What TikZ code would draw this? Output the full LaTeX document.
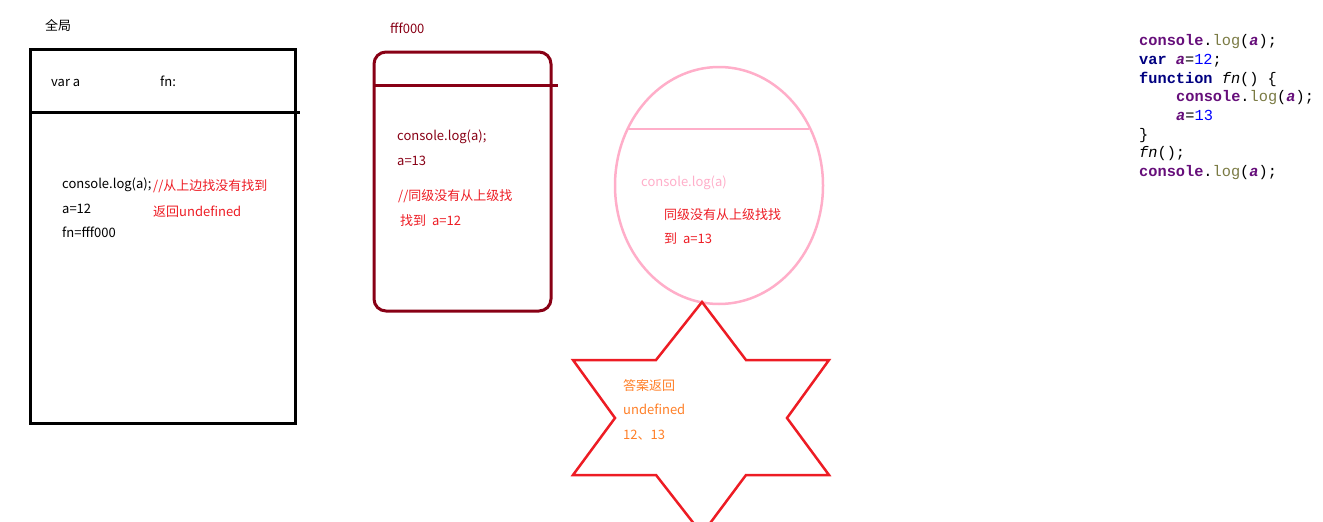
\documentclass[tikz,border=0pt]{standalone}
\usepackage{fontspec}
\setmainfont{Noto Sans CJK SC}
\newfontfamily\codefont{Liberation Mono}
\usepackage{tikz}
\usetikzlibrary{shapes.geometric}

\definecolor{darkred}{RGB}{136,0,21}
\definecolor{paintred}{RGB}{237,28,36}
\definecolor{paintpink}{RGB}{255,174,201}
\definecolor{paintorange}{RGB}{255,127,39}
\definecolor{kwnavy}{RGB}{0,0,128}
\definecolor{varpurple}{RGB}{102,14,122}
\definecolor{callolive}{RGB}{122,122,67}

\newcommand{\jskw}[1]{\textcolor{kwnavy}{\bfseries #1}}
\newcommand{\jsa}{\textcolor{varpurple}{\bfseries\itshape a}}
\newcommand{\jsnum}[1]{\textcolor{blue}{#1}}
\newcommand{\jslog}{\textcolor{varpurple}{\bfseries console}.\textcolor{callolive}{log}(\jsa);}

\begin{document}
\begin{tikzpicture}[x=1pt,y=-1pt,
  txt/.style={anchor=base west,inner sep=0pt,font=\fontsize{13}{15}\selectfont},
  code/.style={anchor=base west,inner sep=0pt,font=\fontsize{15.3}{19}\selectfont\codefont},
  global frame/.style={draw=black,line width=3pt},
  fn frame/.style={draw=darkred,line width=3pt,rounded corners=12pt},
  call frame/.style={draw=paintpink,line width=2.5pt},
  answer star/.style={draw=paintred,line width=2.5pt,line join=miter}]
  \useasboundingbox (0,0) rectangle (1323,522);
  \clip (0,0) rectangle (1323,522);

  % global scope
  \node[txt] (glabel) at (45,30) {全局};
  \draw[global frame] (30,49) rectangle (295,423);
  \draw[global frame] (30,112.5) -- (300,112.5);
  \node[txt] (gvar) at (51,86) {var a};
  \node[txt] (gfn) at (160,86) {fn:};
  \node[txt] (glog) at (62,188) {console.log(a);};
  \node[txt] (ga) at (62,213) {a=12};
  \node[txt] (gfnval) at (62,237) {fn=fff000};
  \node[txt,text=paintred] (gnote1) at (153,190) {//从上边找没有找到};
  \node[txt,text=paintred] (gnote2) at (153,216) {返回undefined};

  % fn heap fff000
  \node[txt,text=darkred] (flabel) at (390,34) {fff000};
  \draw[fn frame] (374,52) rectangle (551,311);
  \draw[draw=darkred,line width=3pt] (374,85) -- (558,85);
  \node[txt,text=darkred] (flog) at (397,140) {console.log(a);};
  \node[txt,text=darkred] (fa) at (397,165) {a=13};
  \node[txt,text=paintred] (fnote1) at (398,200) {//同级没有从上级找};
  \node[txt,text=paintred] (fnote2) at (400,225) {找到\ \ a=12};

  % fn() call scope
  \node[ellipse,call frame,minimum width=208pt,minimum height=237pt,inner sep=0pt] (call) at (719,185.5) {};
  \draw[call frame] (628,129) -- (809,129);
  \node[txt,text=paintpink] (clog) at (641,186) {console.log(a)};
  \node[txt,text=paintred] (cnote1) at (664,219) {同级没有从上级找找};
  \node[txt,text=paintred] (cnote2) at (664,243) {到\ \ a=13};

  % answer
  \draw[answer star] (702,302) -- (746,360) -- (829,360) -- (787,418) -- (829,475)
    -- (746,475) -- (702,534) -- (656,475) -- (573,475) -- (615,418)
    -- (573,360) -- (656,360) -- cycle;
  \node[txt,text=paintorange] (ans1) at (623,390) {答案返回};
  \node[txt,text=paintorange] (ans2) at (623,414) {undefined};
  \node[txt,text=paintorange] (ans3) at (623,439) {12、13};

  % source code
  \node[code] (code1) at (1139,45) {\jslog};
  \node[code] (code2) at (1139,64) {\jskw{var} \jsa=\jsnum{12};};
  \node[code] (code3) at (1139,83) {\jskw{function} \textit{fn}() \{};
  \node[code] (code4) at (1176,101) {\jslog};
  \node[code] (code5) at (1176,120) {\jsa=\jsnum{13}};
  \node[code] (code6) at (1139,139) {\}};
  \node[code] (code7) at (1139,157) {\textit{fn}();};
  \node[code] (code8) at (1139,176) {\jslog};
\end{tikzpicture}
\end{document}
